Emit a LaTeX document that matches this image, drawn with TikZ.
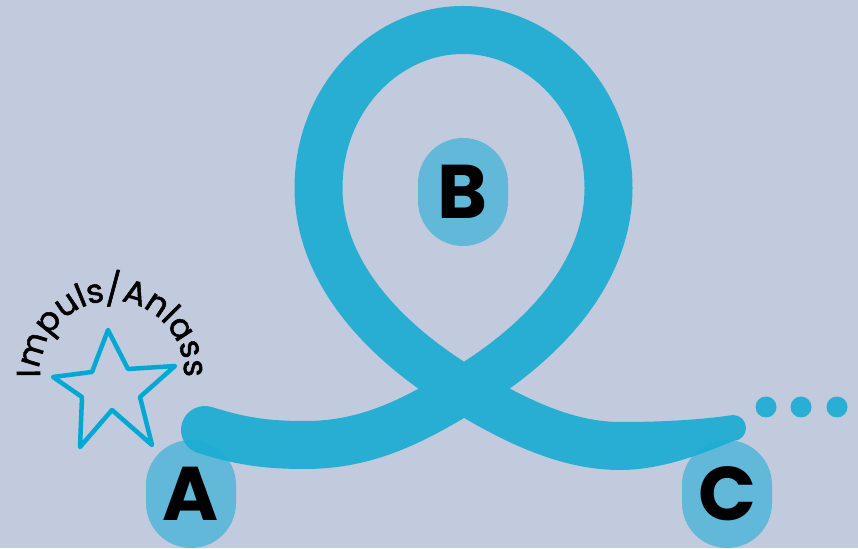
\documentclass[tikz,border=0pt]{standalone}
\usepackage{fontspec}
\setmainfont{Poppins}
\newfontfamily\arcfam{Poppins}[FakeBold=1.6, LetterSpace=-3]
\usetikzlibrary{decorations.text,calc}
\definecolor{bgc}{HTML}{C2CADD}
\definecolor{bandc}{RGB}{24,172,211}
\definecolor{badgec}{HTML}{62B8D8}
\definecolor{starc}{HTML}{00A8D4}
\definecolor{dotc}{HTML}{29AFD4}
\newcommand\arcfont{\arcfam\fontsize{33}{35}\selectfont}
\tikzset{
  badge/.style={fill=badgec, rounded corners=45pt, minimum width=90pt, minimum height=108pt,
    inner sep=0pt, font=\fontsize{76}{76}\selectfont\bfseries, text=black},
  band/.style={draw=bandc, line width=48pt, line cap=round, line join=round},
  bandtip/.style={fill=bandc},
  dotstyle/.style={fill=dotc, circle, minimum size=21pt, inner sep=0pt},
  starline/.style={draw=starc, line width=4.5pt, line join=round}
}
\begin{document}
\begin{tikzpicture}[x=1pt,y=1pt]
\fill[bgc] (0,0) rectangle (858,548);
\useasboundingbox (0,0) rectangle (858,548);
% badges
\node[badge] (A) at (191,54) {A};
\node[badge] (B) at (463,356) {B};
\node[badge] (C) at (727,54) {C};
% loop band
\coordinate (s) at (205,118);
\coordinate (x) at (464,158);
\coordinate (m) at (620,102);
\coordinate (e) at (733,120);
\begin{scope}[transparency group, opacity=0.9]
\draw[band] (s) .. controls (240,107) and (265,103) .. (305,103)
  .. controls (365,103) and (410,125) .. (x)
  .. controls (550,210) and (608.5,280) .. (608.5,360)
  .. controls (608.5,450) and (540,518) .. (463,518)
  .. controls (386,518) and (318.5,450) .. (318.5,360)
  .. controls (318.5,280) and (378,210) .. (x)
  .. controls (520,124) and (570,102) .. (m);
\fill[bandtip] (620,126) .. controls (660,126) and (700,128) .. ($(e)+(0,13)$)
  arc[start angle=90, end angle=-90, radius=13]
  .. controls (700,93) and (660,78) .. (620,78) -- cycle;
\end{scope}
% dots
\node[dotstyle] (d1) at (766,141) {};
\node[dotstyle] (d2) at (801,141) {};
\node[dotstyle] (d3) at (837,141) {};
% star
\draw[starline] (108,218) -- (128,179) -- (175,182) -- (140,151) -- (152,103)
  -- (112,138) -- (80,101) -- (82,151) -- (53,171) -- (92,176) -- cycle;
% arc text
\path[decorate, decoration={text along path, text align=center,
  text={|\arcfont|Impuls/Anlass}}]
  (112,175) ++(178:72) arc[start angle=178, end angle=2, radius=72];
\end{tikzpicture}
\end{document}
